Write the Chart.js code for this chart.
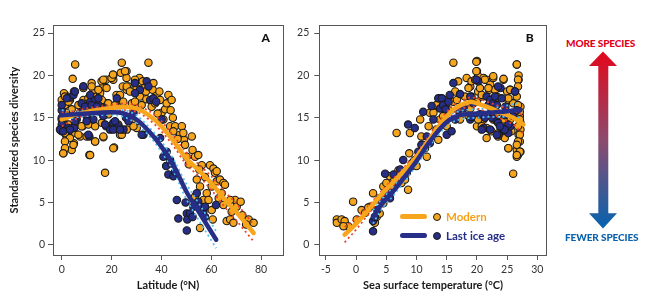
<!DOCTYPE html>
<html><head><meta charset="utf-8">
<script src="https://cdn.jsdelivr.net/npm/chart.js@4"></script>
<style>
html,body{margin:0;padding:0;background:#fff;}
#wrap{position:relative;width:650px;height:300px;overflow:hidden;font-family:Lato,"Open Sans",sans-serif;}
#cA{position:absolute;left:0;top:0;}
#cB{position:absolute;left:290px;top:0;}
.leg{position:absolute;font-weight:bold;font-size:11.5px;line-height:12px;}
.legline{position:absolute;height:5px;border-radius:3px;}
.legdot{position:absolute;width:6px;height:6px;border-radius:50%;border:1.2px solid #1a1a1a;}
.arrlab{position:absolute;font-weight:900;font-size:10px;line-height:10px;white-space:nowrap;letter-spacing:-0.1px;}
</style></head>
<body><div id="wrap">
<canvas id="cA" width="290" height="300"></canvas>
<canvas id="cB" width="270" height="300"></canvas>
<div class="legline" style="left:400px;top:214px;width:27px;background:#f7a51c"></div>
<div class="legdot" style="left:433px;top:213px;background:#f7a51c"></div>
<div class="leg" style="left:446px;top:211px;color:#f6a21a">Modern</div>
<div class="legline" style="left:400px;top:233px;width:27px;background:#262e87"></div>
<div class="legdot" style="left:433px;top:232px;background:#262e87"></div>
<div class="leg" style="left:446px;top:230px;color:#262e87">Last ice age</div>
<div class="arrlab" style="left:566px;top:38px;color:#e2001a">MORE SPECIES</div>
<div class="arrlab" style="left:565px;top:232px;color:#0b62ad">FEWER SPECIES</div>
<svg style="position:absolute;left:0;top:0" width="650" height="300">
<defs><linearGradient id="g" x1="0" y1="51" x2="0" y2="229" gradientUnits="userSpaceOnUse">
<stop offset="0" stop-color="#e3061b"/><stop offset="0.5" stop-color="#8c4b6e"/><stop offset="1" stop-color="#0563b0"/></linearGradient></defs>
<polygon fill="url(#g)" points="603,51.5 617,66 608.3,66 608.3,213.3 617,213.3 603,228.5 589,213.3 598.3,213.3 598.3,66 589,66"/>
</svg>
</div>
<script>
// ---------- DATA ----------
const yTicks = [0,5,10,15,20,25];
const latTicks = [0,20,40,60,80];
const sstTicks = [-5,0,5,10,15,20,25,30];

// Panel A: latitude (°N) vs diversity
const latModern = [[0.7,10.8],[5.4,21.3],[4.4,19.6],[4.9,18.1],[1.7,17.6],[3.3,17.1],[1.3,16.5],[4,16],[1.7,15.6],[0.7,14.8],[2,14],[1.7,13],[2,12.6],[4.9,12],[4,11.2],[5.4,13.2],[7.4,12.8],[0,17.1],[0.9,17.9],[8.4,14],[8.7,17.1],[8.7,18.7],[11.4,16.3],[11.1,10.6],[10.3,14.8],[12,19.1],[12.7,18.1],[13.4,12.2],[14,17.5],[15.4,17.9],[16,16.9],[15.1,16.1],[16.7,18.7],[16,19.3],[17.4,8.5],[16.7,12.7],[17.8,19.5],[18.3,16.7],[18.7,15.4],[20.7,19.5],[20.7,20],[21,11.5],[22,17.7],[22,16.5],[23.1,13.6],[23.4,13],[24.1,21.5],[24.5,18.7],[23.7,20.3],[26,20.5],[26,19.7],[26.8,18.7],[26.1,18.3],[28.2,16.7],[28.2,14.8],[29.4,19.3],[30.1,18.5],[31.2,19.7],[31.4,17.5],[30.1,13.8],[32.5,19.3],[33,18.5],[33.8,18.1],[34.8,21.5],[35.5,18.9],[36.5,18.3],[36.8,19.1],[36.1,16.3],[37.5,16.7],[38.1,17.6],[39.2,18.1],[39.5,17.1],[40.1,15.6],[40.8,14.8],[41.5,16],[42.1,16.7],[42.8,17.7],[44.1,17.1],[43.7,15.9],[44.6,15],[43.5,14],[45.5,14],[44.8,13.4],[48.2,14],[47.5,13],[49.1,12.4],[48.8,13.2],[49.5,11.8],[52.2,12.8],[50.2,10.4],[52.5,11.2],[53.5,10.4],[54.8,10.6],[56.2,9.4],[55.2,8.9],[54.2,7.7],[55.5,6.9],[53.5,5.7],[54.2,4.7],[56.2,4.1],[56.9,5.3],[58.2,6.1],[59.5,9.4],[60.9,9],[61.5,8.5],[62.2,8.7],[60.2,6.9],[58.9,5.3],[60.2,4.1],[60.6,3],[55.5,2],[62.2,7.5],[63.5,7.7],[64.9,7.3],[65.5,7.1],[64.2,6.1],[64.9,4.7],[66.2,2.8],[67.6,3],[68.2,3.9],[69.6,5.3],[70.2,4.5],[71.8,5.1],[75,3],[77,2.6],[68.9,2.6],[67.6,5.3],
[25.4,20.5],[16.7,19.5],[20,19.7],[20.6,20.1],[26.1,18.7],[29.4,19.5],[8.7,18.5],[12,18.7],[14.7,18.3],[18,18.5],[23.4,17.7],[27.4,18.1],[1.3,17.5],[2.7,16.9],[6.7,16.5],[8.7,15.7],[10.7,17.3],[16.1,17.1],[18.7,16.7],[21.4,16.5],[24.7,16.9],[29.4,16.9],[32.1,16.5],[0,14.8],[2.7,14.2],[5.3,14.4],[8,14],[10.7,14.2],[13.4,14],[16.1,14.4],[19.4,14],[22.7,14.2],[26.1,13.6],[28.8,14],[1.3,13.2],[3.3,12.6],[6.7,13],[10,12.8],[16.7,12.8],[24.1,13],[1.3,12.2],[4.7,11.8],[1.3,11.4],[13.4,12.2],[0.6,10.8],[11.4,10.6],[20.7,11.4],[34,17.2],[38.5,15.5],[46.5,12.5],[51,9.5],[57.5,8],[63,5.5],[72.5,3.5],[74,2.4]];
const latGlacial = [[0,15.9],[0,13.4],[0.9,14.2],[2.7,13.8],[4.9,13.8],[3.3,17.4],[4.7,17.7],[8.7,18.7],[8,16.7],[11.1,12.8],[11.4,16.9],[13.4,17.1],[14.7,16.5],[15.4,15.7],[16.7,15.2],[17.8,14],[19.4,13.6],[20.7,14.4],[22.8,14],[24.8,13.6],[25.8,15],[26.8,14.6],[28.8,15.6],[29.4,19.1],[31.4,18.3],[32.8,13],[34.1,19.3],[34.8,18.7],[35.5,17.1],[36.8,17.3],[37.9,16.9],[40.1,14.8],[39.5,12.6],[40.8,10.4],[42.1,11],[41.9,9.3],[42.8,8.3],[44.8,8.1],[43.5,10],[46.2,5.3],[46.8,3.1],[49.7,5],[50.2,3.7],[50.4,3],[50.2,1.7],[51.5,3.7],[52.5,3.3],[52.8,4.5],[54.8,5.1],[55.5,4.5],[56.9,4],[57.5,3.3],[61.9,4.7],[57.5,4.5],[54.2,6.1],[9.4,16.3],[10,15.2],[12.7,14.8],[14,15.9],[6,14.8],[7.4,15.6],
[0,16.5],[2,17.3],[5.3,18.1],[11.4,17.7],[14.7,17.3],[12,16.5],[14.1,16.3],[17.4,16.1],[29.4,17.9],[22.1,17.3],[0,14.2],[-0.7,13.6],[0.6,13.4],[3.3,13.6],[5.3,14.6],[10.7,13],[10,14.6],[17.4,14.2],[20.7,13.6],[23.4,13.6],[21.4,14.6],[32.1,13],[0,15],[44,9.6],[45.5,8.6]];

const latModernFitX = [0,5,10,15,20,25,30,35,40,45,50,55,60,65,70,77];
const latModernFitY = [14.8,15.3,15.7,15.95,16.15,16.3,16.1,15.3,14.0,12.2,10.2,8.8,7.3,5.5,3.9,1.4];
const latModernHiY  = [15.6,15.8,16.1,16.3,16.5,16.7,16.5,15.8,14.6,12.8,10.9,9.5,8.1,6.4,4.9,2.4];
const latModernLoY  = [14.0,14.8,15.3,15.6,15.8,15.9,15.7,14.8,13.4,11.6,9.5,8.1,6.5,4.6,2.9,0.4];

const latGlacialFitX = [0,5,10,15,20,25,30,35,40,45,50,55,62];
const latGlacialFitY = [15.3,15.4,15.5,15.6,15.65,15.5,14.8,13.4,11.6,9.3,6.3,3.9,0.6];
const latGlacialHiY  = [15.9,15.8,15.8,15.9,16.0,15.9,15.3,13.9,12.2,10.0,7.2,4.9,1.6];
const latGlacialLoY  = [14.7,15.0,15.2,15.3,15.3,15.1,14.3,12.9,11.0,8.6,5.4,2.9,-0.4];

// Panel B: sea surface temperature (°C) vs diversity
const sstModern = [[-3.2,3],[-3.2,2.6],[-2.4,3],[-1.9,2.8],[-0.5,5.1],[-1.3,2.2],[0.1,3],[-2.1,2.2],[0.9,4.1],[2.3,4.5],[2.8,6.1],[3.1,2.6],[3.4,3.3],[3.9,5.5],[4.5,6.9],[5,7.3],[5.6,8.1],[5.9,6.9],[6.7,13.2],[7.3,8.5],[7.5,7.3],[8.1,7.7],[8.6,6.5],[8.4,8.5],[8.8,10.8],[9.2,9.3],[8.9,13.2],[9.7,10],[10,9.3],[10.6,14.8],[10.8,12.8],[11.4,11.4],[11.7,10.4],[12,14],[12.2,15.6],[13.3,13.6],[13.6,12.4],[13.3,16.5],[13.9,14.8],[14.7,17.1],[15.3,15.9],[16.1,21.5],[16.4,18.1],[16.9,19.3],[16.1,16.9],[17.2,14.8],[18,17.5],[18.3,19.7],[18.9,18.7],[18.9,16.1],[19.1,19.3],[20,21.7],[20,20.5],[20.2,19.9],[20.2,18.1],[20,16.9],[20.5,18.5],[20.8,17.5],[21.1,19.7],[21.6,19.5],[22.2,18.9],[22.7,19.7],[22,18.3],[23,18.3],[23.3,17.5],[24.4,19.5],[25,18.1],[25.5,18.3],[25.2,17.1],[26,16.7],[26.6,21.3],[26.9,20],[26.9,19.5],[26.3,18.1],[27.2,16.3],[27.1,15.2],[27.2,14.4],[27.2,13.6],[26.9,13],[27.1,12.2],[26.6,11.2],[27.2,11],[26.8,10.6],[26.6,10.4],[26,8.4],[25.2,11.4],[24.4,13],[23.6,13.2],[25.5,14.8],[24.4,14.8],[22.2,16.3],[18.6,15.2],[20,14],[21.1,14.8],[21.6,13.8],[22.7,14.8],[23.3,15.6],[16.7,17.1],[14.4,15.2],[15,14],[12.8,15.6],[5.6,6.1],[4.5,4.9],[3.9,3.7],
[19.9,21.6],[26.6,21.3],[19.9,20.5],[19.7,19.5],[21.3,19.5],[22.7,19.9],[24.4,19.6],[26.8,19.5],[18.6,18.5],[21.9,18.5],[25.5,18.3],[26.8,18.7],[19.1,17.5],[20.8,17.7],[25.2,17.3],[26.6,17.5],[26.8,16.5],[27.1,15.7],[27.1,14.8],[26.8,14],[27.1,13],[26.8,12.2],[26.6,11.8],[27.1,11],[26.6,10.6],[25.2,11.4],[20.8,14],[22.4,13.4],[24.1,13.8],[25.7,13.4],[20.2,14.8],[24.6,12.6],[23.5,12.8],[21.6,12.6],[1.5,3.8],[2,4.4],[6.3,7.6],[7,8.8],[9.5,9.8],[11,11.8],[14,17.3]];
const sstGlacial = [[2.8,2.8],[2.8,1.6],[3.1,3.3],[3.5,4.1],[4.8,8.4],[5,6.1],[5.6,5.5],[6.2,8.3],[6.7,7.3],[7.3,8.9],[7.8,10],[8.6,14.2],[9.2,9.6],[9.7,13.8],[10.3,11],[10.8,11.8],[11.1,15.7],[11.7,12.8],[12.2,12],[12.8,14.8],[13.6,17.3],[13.9,16.1],[14.2,17.3],[14.4,16.5],[15,13],[15.3,16.9],[15.5,17.7],[15.8,13.4],[16.1,19.1],[16.4,14.8],[16.9,15.9],[17.8,16.1],[18.9,17.5],[19.4,16.7],[20.2,19.3],[20.5,15.4],[21.1,13.8],[21.6,17.5],[21.9,16.5],[22.2,17.1],[22.5,15],[22.7,16.7],[23.3,14.6],[23.6,13],[23.9,18.5],[24.4,13.6],[24.7,16.3],[25.2,13.2],[25.5,14],[26,15.2],[26.3,18.1],[26.6,15.9],[18.9,14.8],[22.2,13.6],
[19.9,19.5],[23.5,18.7],[26.3,18.1],[23,17.5],[24.1,17.3],[23.3,16.5],[22.4,15.7],[24.6,15.3],[19.1,15.1],[21.3,15],[23.5,14.4],[25.2,14.2],[20.8,13.6],[24.6,13.6],[23.3,13],[23.8,14],[4.2,5.2],[7.5,8],[12.5,16.4],[14.8,16],[17.2,17.8]];

const sstModernFitX = [-1.9,0,2,4,6,8,10,12,14,16,18,19,20,22,24,26,27.7];
const sstModernFitY = [1.2,2.5,4.1,5.8,7.3,8.8,10.4,12.3,14.3,15.9,16.7,16.9,16.7,16.2,15.6,15.0,14.2];
const sstModernHiY  = [2.1,3.2,4.6,6.2,7.7,9.2,10.8,12.8,14.8,16.4,17.2,17.4,17.3,16.8,16.3,15.8,15.3];
const sstModernLoY  = [0.3,1.8,3.6,5.4,6.9,8.4,10.0,11.8,13.8,15.4,16.2,16.4,16.1,15.6,14.9,14.2,13.1];

const sstGlacialFitX = [2.8,4,6,8,10,12,14,16,18,20,22,24,26,27.2];
const sstGlacialFitY = [3.3,4.6,6.2,8.0,9.9,12.0,13.8,15.0,15.4,15.5,15.6,15.7,15.85,15.9];
const sstGlacialHiY  = [4.1,5.2,6.7,8.5,10.4,12.5,14.3,15.5,15.9,16.0,16.1,16.3,16.6,16.8];
const sstGlacialLoY  = [2.5,4.0,5.7,7.5,9.4,11.5,13.3,14.5,14.9,15.0,15.1,15.1,15.1,15.0];

// ---------- STYLE / BUILD ----------
const ORANGE = '#f7a51c', NAVY = '#262e87', REDDOT = '#e9442b', BLUEDOT = '#55c3ef';
const FONT = 'Lato, "Open Sans", sans-serif';
const toPts = arr => arr.map(p => ({x:p[0], y:p[1]}));
const zipXY = (xs, ys) => xs.map((x,i) => ({x, y:ys[i]}));

function scatterDs(data, color, order){
  return {type:'scatter', data:toPts(data), backgroundColor:color, borderColor:'#1b1b1b',
    borderWidth:1.1, pointRadius:3.7, pointHoverRadius:3.7, order};
}
function lineDs(xs, ys, color, width, dash, order){
  return {type:'line', data:zipXY(xs, ys), borderColor:color, borderWidth:width, borderDash:dash,
    pointRadius:0, fill:false, showLine:true, cubicInterpolationMode:'monotone',
    borderCapStyle: dash.length ? 'butt' : 'round', order};
}

const boxPlugin = {
  id:'box',
  afterDraw(chart){
    const {ctx, chartArea:a} = chart;
    ctx.save(); ctx.strokeStyle='#555'; ctx.lineWidth=1;
    ctx.strokeRect(Math.round(a.left)+0.5, Math.round(a.top)+0.5, Math.round(a.right-a.left), Math.round(a.bottom-a.top));
    const lbl = chart.options.plugins.box.label;
    ctx.fillStyle='#111'; ctx.font='900 12px '+FONT; ctx.textAlign='right'; ctx.textBaseline='middle';
    ctx.fillText(lbl, a.right-13, a.top+13);
    ctx.restore();
  }
};

function makeChart(id, cfg){
  const datasets = [
    lineDs(cfg.gX, cfg.gY, NAVY, 4.5, [], 0),
    lineDs(cfg.mX, cfg.mY, ORANGE, 4.5, [], 1),
    lineDs(cfg.mX, cfg.mHi, REDDOT, 1.8, [2,3], 2),
    lineDs(cfg.mX, cfg.mLo, REDDOT, 1.8, [2,3], 2),
    lineDs(cfg.gX, cfg.gHi, BLUEDOT, 1.8, [2,3], 3),
    lineDs(cfg.gX, cfg.gLo, BLUEDOT, 1.8, [2,3], 3),
    scatterDs(cfg.gPts, NAVY, 4),
    scatterDs(cfg.mPts, ORANGE, 5)
  ];
  return new Chart(document.getElementById(id), {
    type:'scatter',
    data:{datasets},
    options:{
      responsive:false, animation:false, events:[],
      layout:{padding:{top:25, right:cfg.padRight, left:0, bottom:0}},
      plugins:{legend:{display:false}, tooltip:{enabled:false}, box:{label:cfg.label}},
      scales:{
        x:{type:'linear', min:cfg.xMin, max:cfg.xMax,
          afterBuildTicks(s){ s.ticks = cfg.xTicks.map(v=>({value:v})); },
          afterFit(s){ s.height = 45; },
          border:{display:false},
          grid:{drawOnChartArea:false, drawTicks:true, tickLength:5, color:'#555', tickColor:'#555'},
          ticks:{font:{family:FONT, size:10.5}, color:'#333', padding:3, maxRotation:0, autoSkip:false},
          title:{display:true, text:cfg.xTitle, font:{family:FONT, size:11, weight:'bold'}, color:'#1a1a1a', padding:{bottom:8, top:0}}
        },
        y:{type:'linear', min:-1.2, max:25.95,
          afterBuildTicks(s){ s.ticks = yTicks.map(v=>({value:v})); },
          afterFit(s){ s.width = cfg.yWidth; },
          border:{display:false},
          grid:{drawOnChartArea:false, drawTicks:true, tickLength:5, color:'#555', tickColor:'#555'},
          ticks:{font:{family:FONT, size:10.5}, color:'#333', padding:cfg.yPad, autoSkip:false},
          title:{display:cfg.yTitle!=='', text:cfg.yTitle, font:{family:FONT, size:11, weight:'bold'}, color:'#1a1a1a', padding:{top:8, bottom:0}}
        }
      }
    },
    plugins:[boxPlugin]
  });
}

makeChart('cA', {label:'A', xMin:-3.5, xMax:88.8, xTicks:latTicks, xTitle:'Latitude (°N)',
  yTitle:'Standardized species diversity', yWidth:53, yPad:3, padRight:7,
  mPts:latModern, gPts:latGlacial,
  mX:latModernFitX, mY:latModernFitY, mHi:latModernHiY, mLo:latModernLoY,
  gX:latGlacialFitX, gY:latGlacialFitY, gHi:latGlacialHiY, gLo:latGlacialLoY});

makeChart('cB', {label:'B', xMin:-6.1, xMax:31.55, xTicks:sstTicks, xTitle:'Sea surface temperature (°C)',
  yTitle:'', yWidth:29.3, yPad:5, padRight:13.3,
  mPts:sstModern, gPts:sstGlacial,
  mX:sstModernFitX, mY:sstModernFitY, mHi:sstModernHiY, mLo:sstModernLoY,
  gX:sstGlacialFitX, gY:sstGlacialFitY, gHi:sstGlacialHiY, gLo:sstGlacialLoY});
</script>
</body></html>
